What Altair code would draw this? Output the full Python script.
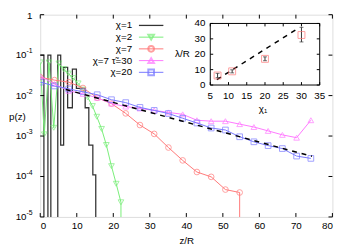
import altair as alt
import pandas as pd

# ---------------- data ----------------
# chi=1 histogram (left bin edges, values; 0 -> empty bin)
h_edges = [0, 1.0, 2.1, 2.9, 4.8, 5.6, 6.4, 7.5, 8.8, 9.9, 12.3, 13.3, 14.4, 15.2]
h_vals = [0.1, 0, 0.1, 0, 0.1, 6e-4, 0.05, 0.005, 0.045, 0.015, 0.005, 6e-4, 1.1e-4, 0]

g_z = [0, 1.1, 2.4, 3.7, 5.1, 6.4, 7.7, 9.0, 10.4, 11.7, 13.0, 14.3, 15.5, 16.8, 18.1, 19.5, 20.8, 22.1]
g_p = [0.066, 1.1e-3, 0.066, 1.6e-3, 0.062, 0.045, 0.035, 0.027, 0.02, 0.014, 0.009, 0.0055,
       0.003, 0.0015, 6e-4, 1.8e-4, 6.6e-5, 2.3e-5]

r_z = [0, 3.9, 7.8, 11.7, 15.6, 19.5, 23.4, 27.3, 31.2, 35.1, 39.0, 42.9, 46.8, 50.7, 54.6]
r_p = [0.0285, 0.0241, 0.0215, 0.0154, 0.00885, 0.00634, 0.00363, 0.00187, 0.00113, 0.00052,
       0.00025, 0.000129, 0.000098, 0.0000475, 0.0000402]

m_z = [0, 3.9, 7.8, 11.7, 15.6, 19.5, 23.4, 27.3, 31.2, 35.1, 39.0, 42.9, 46.8, 50.7, 54.6,
       58.5, 62.4, 66.3, 70.2, 74.1]
m_p = [0.0301, 0.0193, 0.0131, 0.0110, 0.00885, 0.00634, 0.00536, 0.0048, 0.0043, 0.00384,
       0.00344, 0.00246, 0.00233, 0.00233, 0.00197, 0.00167, 0.00134, 0.00107, 0.00091, 0.00246]

b_z = m_z
b_p = [0.0215, 0.0173, 0.0146, 0.0124, 0.0105, 0.0079, 0.0067, 0.0051, 0.0043, 0.0036,
       0.00275, 0.0021, 0.00158, 0.00141, 0.00096, 0.00072, 0.00058, 0.00049, 0.00032, 0.00028]

fit_z = [7.0, 74.4]
fit_p = [0.0141, 0.000315]

x_ticks = [0, 10, 20, 30, 40, 50, 60, 70, 80]
y_ticks = [1, 0.1, 0.01, 0.001, 1e-4, 1e-5]
y_base = ["1", "10", "10", "10", "10", "10"]
y_exp = ["", "-1", "-2", "-3", "-4", "-5"]

# inset
i_chi = [7, 11, 20, 30]
i_lam = [6.2, 8.9, 17.0, 32.5]
i_lo = [4.8, 7.9, 15.8, 28.0]
i_hi = [7.6, 9.9, 18.3, 37.5]
ifit_chi = [6.8, 29.2]
ifit_lam = [3.5, 37.0]
i_xticks = [5, 10, 15, 20, 25, 30, 35]
i_yticks = [0, 10, 20, 30, 40]

legend_labels = ["χ=1", "χ=2", "χ=7", "χ=7 τ̃=30", "χ=20"]

# ---------------- style ----------------
FONT = "Liberation Sans"
FS = 10
W, H = 299, 207
C_BLACK = "#333333"
C_GREEN = "#77ee77"
C_RED = "#ff7777"
C_MAG = "#ff77ff"
C_BLUE = "#7777ff"
FLOOR = 1e-7

x_enc = alt.X("z:Q", scale=alt.Scale(domain=[0, 80], nice=False),
              axis=alt.Axis(values=x_ticks, ticks=False, domain=False, grid=False,
                            labelFontSize=FS, labelFont=FONT, labelPadding=4, labelColor="black",
                            title="z/R", titleFont=FONT, titleFontSize=FS, titleFontWeight="normal",
                            titleY=24, titleBaseline="middle", titleColor="black"))
y_enc = alt.Y("p:Q", scale=alt.Scale(type="log", domain=[1e-5, 1], nice=False), axis=None)


def df(z, p):
    return pd.DataFrame({"z": z, "p": [v if v > 0 else FLOOR for v in p]})


layers = []
# histogram chi=1
layers.append(alt.Chart(df(h_edges, h_vals)).mark_line(
    interpolate="step-after", color=C_BLACK, strokeWidth=1.3, clip=True).encode(x=x_enc, y=y_enc))


def series(z, p, color, shape, drop=False):
    zz, pp = list(z), list(p)
    if drop:
        zz = zz + [zz[-1]]
        pp = pp + [FLOOR]
    line = alt.Chart(df(zz, pp)).mark_line(color=color, strokeWidth=1, clip=True).encode(x=x_enc, y=y_enc)
    pts = alt.Chart(df(z, p)).mark_point(shape=shape, color=color, filled=False, size=34,
                                          strokeWidth=1, clip=True).encode(x=x_enc, y=y_enc)
    return [line, pts]


layers += series(g_z, g_p, C_GREEN, "triangle-down", drop=True)
layers += series(r_z, r_p, C_RED, "circle", drop=True)
layers += series(m_z, m_p, C_MAG, "triangle-up")
layers += series(b_z, b_p, C_BLUE, "square")

layers.append(alt.Chart(df(fit_z, fit_p)).mark_line(
    color="black", strokeWidth=1.5, strokeDash=[5, 5]).encode(x=x_enc, y=y_enc))

# mirrored inward ticks
xt = pd.DataFrame({"z": x_ticks})
yt = pd.DataFrame({"p": y_ticks})
layers.append(alt.Chart(xt).mark_rule(color="black").encode(x=x_enc, y=alt.value(H), y2=alt.value(H - 4)))
layers.append(alt.Chart(xt).mark_rule(color="black").encode(x=x_enc, y=alt.value(0), y2=alt.value(4)))
layers.append(alt.Chart(yt).mark_rule(color="black").encode(y=y_enc, x=alt.value(0), x2=alt.value(4)))
layers.append(alt.Chart(yt).mark_rule(color="black").encode(y=y_enc, x=alt.value(W), x2=alt.value(W - 4)))

# y tick labels
ylab = pd.DataFrame({"p": y_ticks, "base": y_base, "exp": y_exp})
layers.append(alt.Chart(ylab[ylab.base == "1"]).mark_text(
    align="right", baseline="middle", font=FONT, fontSize=FS, dy=1).encode(
    y=y_enc, x=alt.value(-8), text="base:N"))
layers.append(alt.Chart(ylab[ylab.base == "10"]).mark_text(
    align="right", baseline="middle", font=FONT, fontSize=FS).encode(
    y=y_enc, x=alt.value(-14), text="base:N"))
layers.append(alt.Chart(ylab[ylab.base == "10"]).mark_text(
    align="left", baseline="middle", font=FONT, fontSize=7, dy=-4).encode(
    y=y_enc, x=alt.value(-14), text="exp:N"))

one = pd.DataFrame({"a": [0]})
layers.append(alt.Chart(one).mark_text(text="p(z)", align="left", baseline="middle",
                                       font=FONT, fontSize=FS).encode(
    x=alt.value(-32), y=alt.value(105)))

# legend
leg_colors = [C_BLACK, C_GREEN, C_RED, C_MAG, C_BLUE]
leg_shapes = [None, "triangle-down", "circle", "triangle-up", "square"]
for i, (lab, col, shp) in enumerate(zip(legend_labels, leg_colors, leg_shapes)):
    yy = 11 + 12 * i
    layers.append(alt.Chart(one).mark_text(text=lab, align="right", baseline="middle",
                                           font=FONT, fontSize=FS).encode(
        x=alt.value(94), y=alt.value(yy)))
    layers.append(alt.Chart(one).mark_rule(color=col, strokeWidth=1.3 if shp is None else 1).encode(
        x=alt.value(101), x2=alt.value(126), y=alt.value(yy)))
    if shp:
        layers.append(alt.Chart(one).mark_point(shape=shp, color=col, filled=False, size=34).encode(
            x=alt.value(113.5), y=alt.value(yy)))

main = alt.layer(*layers)

# ---------------- inset ----------------
IX0, IX1, IY0, IY1 = 174, 286, 72, 9
iscale_x = alt.Scale(domain=[5, 35], range=[IX0, IX1], nice=False)
iscale_y = alt.Scale(domain=[0, 40], range=[IY0, IY1], nice=False)
ix = alt.X("chi:Q", scale=iscale_x, axis=None)
iy = alt.Y("lam:Q", scale=iscale_y, axis=None)

ins = []
ins.append(alt.Chart(pd.DataFrame({"chi": [5], "chi2": [35], "lam": [0], "lam2": [40]})).mark_rect(
    fill="white", stroke="black", strokeWidth=1).encode(x=ix, x2="chi2:Q", y=iy, y2="lam2:Q"))
ixt = pd.DataFrame({"chi": i_xticks, "t": [str(v) for v in i_xticks]})
iyt = pd.DataFrame({"lam": i_yticks, "t": [str(v) for v in i_yticks]})
ins.append(alt.Chart(ixt).mark_rule(color="black").encode(x=ix, y=alt.value(IY0), y2=alt.value(IY0 - 3)))
ins.append(alt.Chart(ixt).mark_rule(color="black").encode(x=ix, y=alt.value(IY1), y2=alt.value(IY1 + 3)))
ins.append(alt.Chart(iyt).mark_rule(color="black").encode(y=iy, x=alt.value(IX0), x2=alt.value(IX0 + 3)))
ins.append(alt.Chart(iyt).mark_rule(color="black").encode(y=iy, x=alt.value(IX1), x2=alt.value(IX1 - 3)))
ins.append(alt.Chart(ixt).mark_text(baseline="middle", align="center", font=FONT, fontSize=FS).encode(
    x=ix, y=alt.value(83), text="t:N"))
ins.append(alt.Chart(iyt).mark_text(baseline="middle", align="right", font=FONT, fontSize=FS).encode(
    y=iy, x=alt.value(169), text="t:N"))
ins.append(alt.Chart(one).mark_text(text="λ/R", align="right", baseline="middle", font=FONT,
                                    fontSize=FS).encode(x=alt.value(153), y=alt.value(40)))
ins.append(alt.Chart(one).mark_text(text="χ₁", align="center", baseline="middle", font=FONT,
                                    fontSize=FS).encode(x=alt.value(228), y=alt.value(97)))

ifit = pd.DataFrame({"chi": ifit_chi, "lam": ifit_lam})
ins.append(alt.Chart(ifit).mark_line(color="black", strokeWidth=1.5, strokeDash=[5, 5]).encode(x=ix, y=iy))
ipts = pd.DataFrame({"chi": i_chi, "lam": i_lam, "lo": i_lo, "hi": i_hi})
ins.append(alt.Chart(ipts).mark_rule(color="#333333", strokeWidth=1).encode(
    x=ix, y=alt.Y("lo:Q", scale=iscale_y, axis=None), y2="hi:Q"))
ins.append(alt.Chart(ipts).mark_tick(color="#333333", size=4, thickness=1, orient="horizontal").encode(
    x=ix, y=alt.Y("lo:Q", scale=iscale_y, axis=None)))
ins.append(alt.Chart(ipts).mark_tick(color="#333333", size=4, thickness=1, orient="horizontal").encode(
    x=ix, y=alt.Y("hi:Q", scale=iscale_y, axis=None)))
ins.append(alt.Chart(ipts).mark_point(shape="square", color=C_RED, filled=False, size=50,
                                      strokeWidth=1).encode(x=ix, y=iy))

inset = alt.layer(*ins)

chart = alt.layer(main, inset).resolve_scale(x="independent", y="independent").properties(
    width=W, height=H,
    padding={"left": 33, "top": 4, "right": 18, "bottom": 31},
    autosize=alt.AutoSizeParams(type="none"),
).configure_view(stroke="black", strokeWidth=1).configure(background="white")

chart.save("out.html", embed_options={"renderer": "svg", "actions": False})
